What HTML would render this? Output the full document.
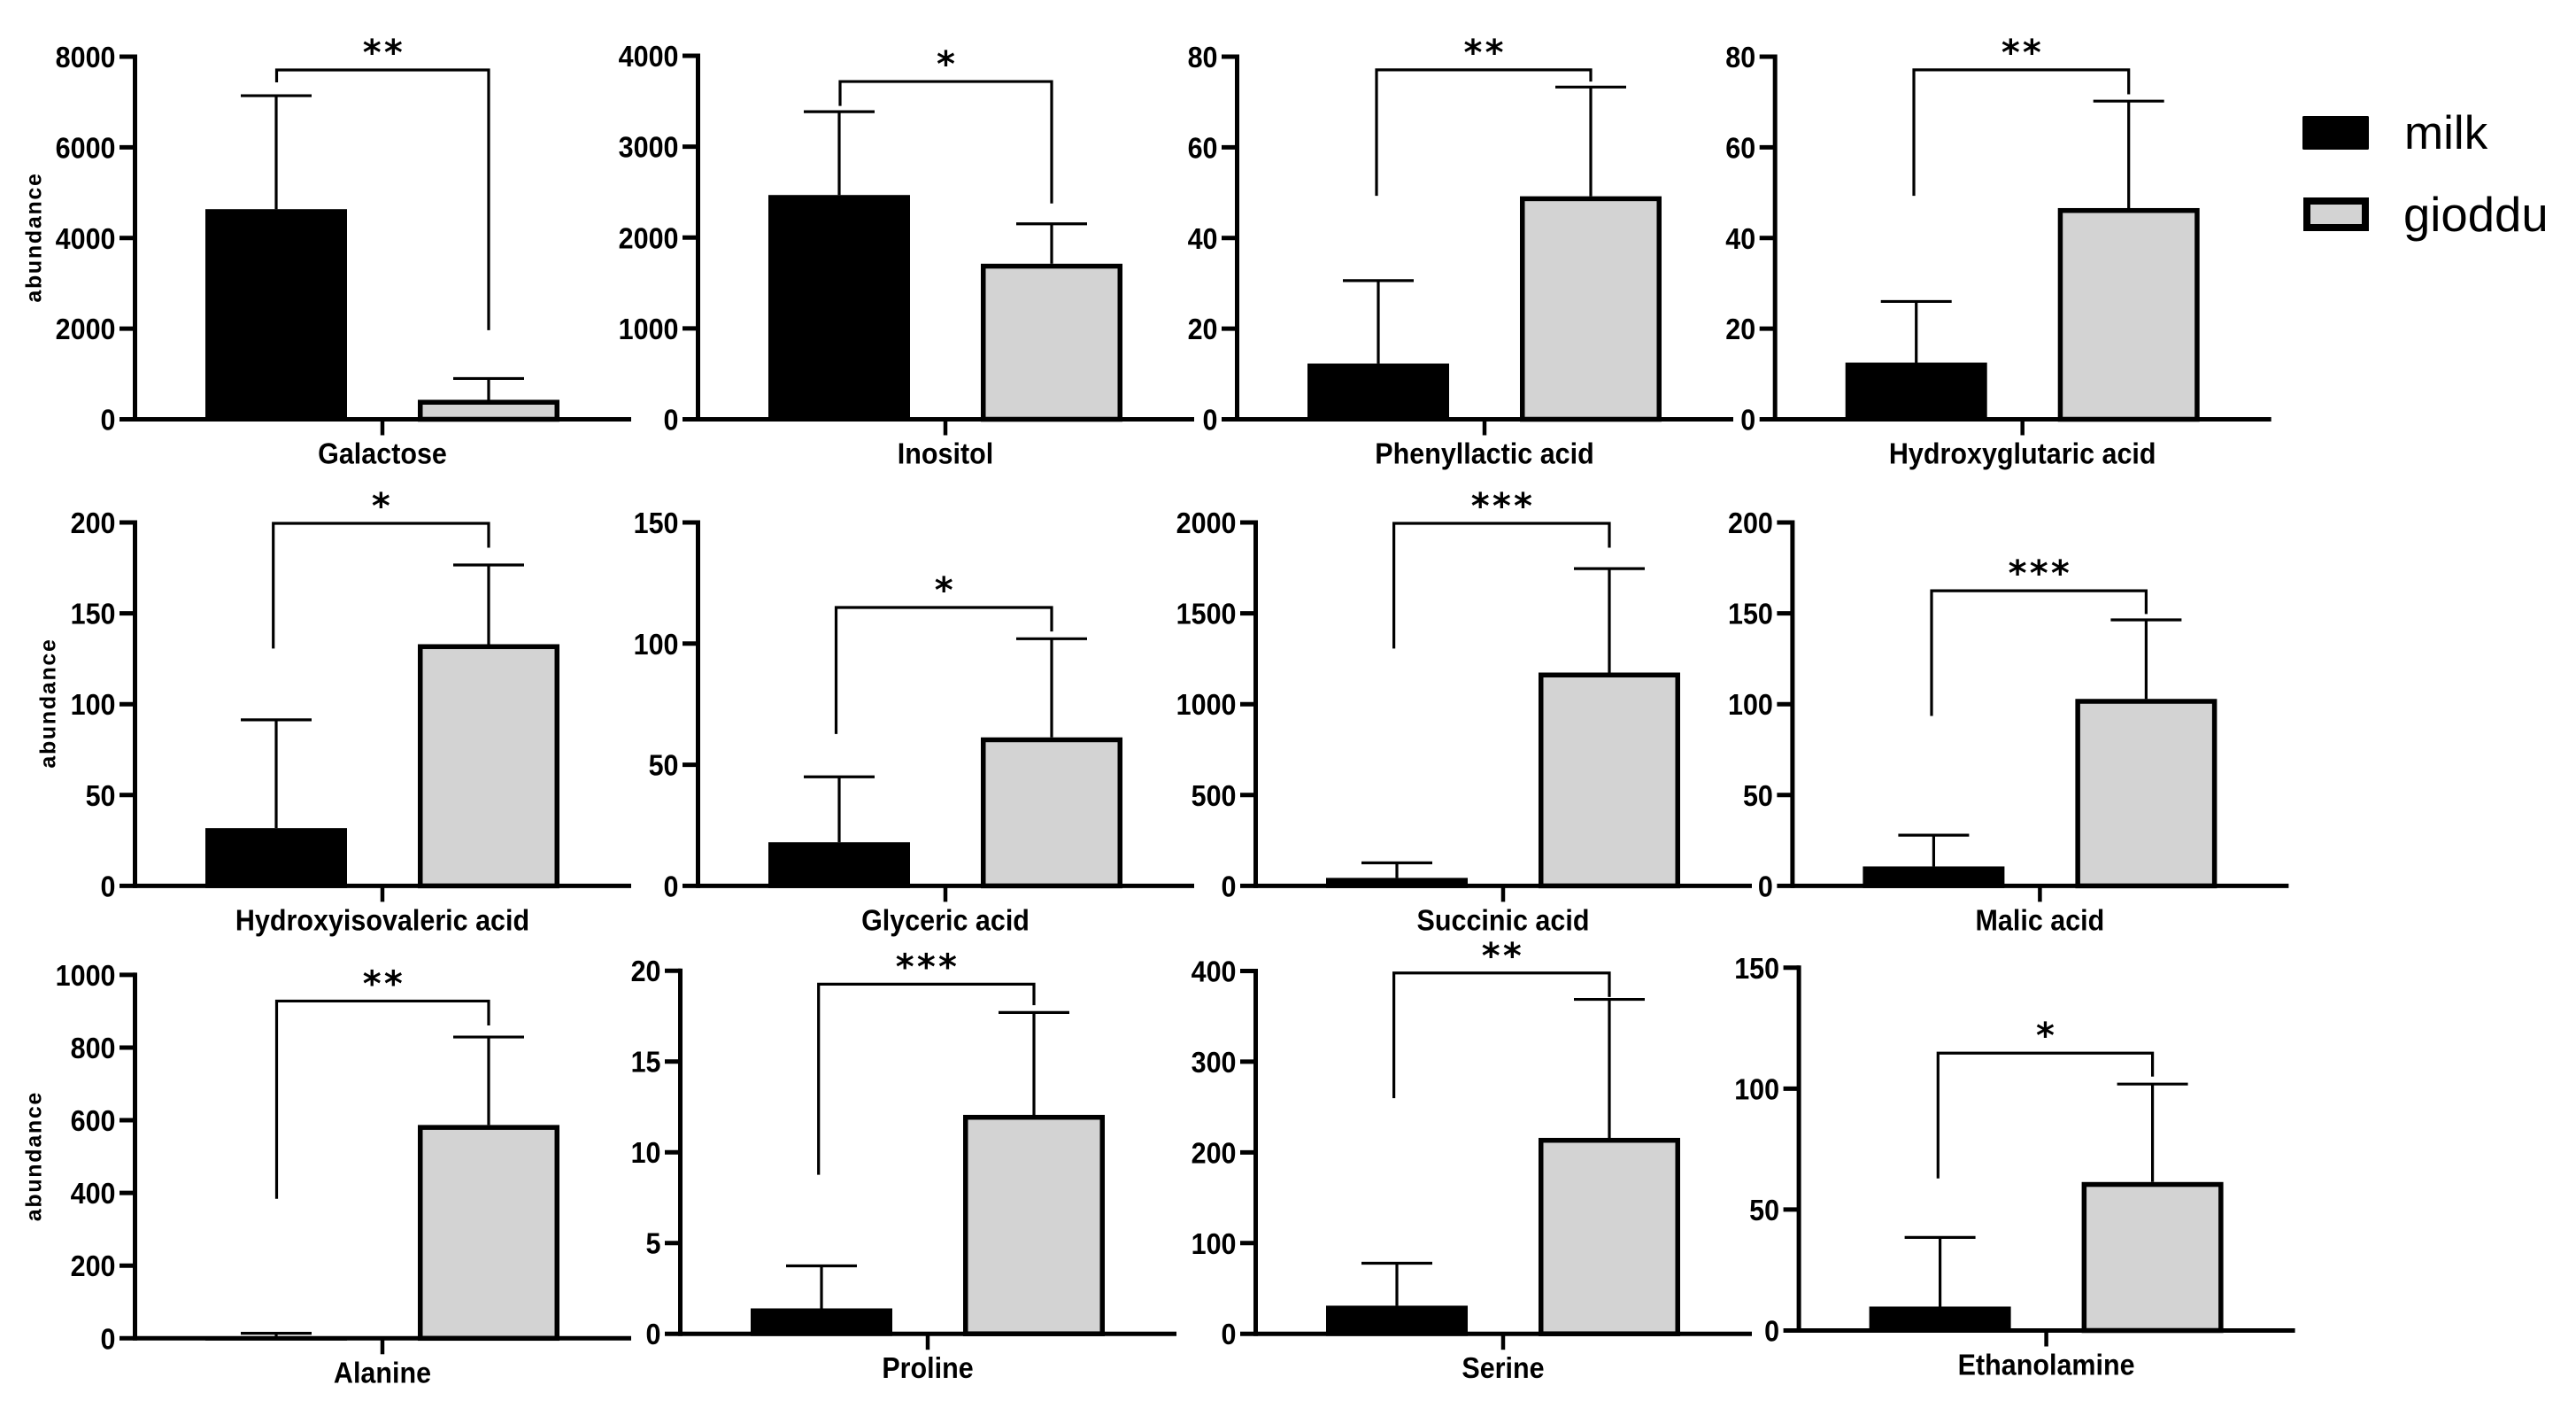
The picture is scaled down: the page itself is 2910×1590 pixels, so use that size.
<!DOCTYPE html>
<html lang="en">
<head>
<meta charset="utf-8">
<title>Metabolite abundance in milk and gioddu</title>
<style>
  html, body { margin: 0; padding: 0; background: #ffffff; }
  svg { display: block; }
  text { font-family: "Liberation Sans", Arial, sans-serif; fill: #000000; }
  .tick-text, .cat-text { font-size: 30.5px; font-weight: 700; }
  .y-title { font-size: 25px; font-weight: 700; letter-spacing: 1.7px; }
  .stars { font-family: "DejaVu Sans", "Liberation Sans", sans-serif; font-size: 40px; font-weight: 700; letter-spacing: 3.2px; }
  .legend-text { font-size: 53px; font-weight: 400; }
  .legend-text-wide { font-size: 54.5px; font-weight: 400; }
</style>
</head>
<body>
<svg id="figure" xmlns="http://www.w3.org/2000/svg" width="2910" height="1590" viewBox="0 0 2910 1590">
  <rect x="0" y="0" width="2910" height="1590" fill="#ffffff"/>
  <g id="panels"></g>
  <g>
    <g>
      <rect x="2601" y="131" width="75" height="38" rx="1.5" fill="#000000"/>
      <text class="legend-text" x="2716" y="168">milk</text>
    </g>
    <g>
      <rect x="2606" y="227" width="66" height="30" fill="#d3d3d3" stroke="#000000" stroke-width="8"/>
      <text class="legend-text-wide" x="2715" y="261">gioddu</text>
    </g>
  </g>
</svg>
<script>
// ---- chart data ----
const categories = ['Galactose', 'Inositol', 'Phenyllactic acid', 'Hydroxyglutaric acid',
  'Hydroxyisovaleric acid', 'Glyceric acid', 'Succinic acid', 'Malic acid',
  'Alanine', 'Proline', 'Serine', 'Ethanolamine'];
const milkMeans = [4636, 2468, 12.3, 12.5, 31.8, 18, 44, 10.7, 3, 1.4, 31, 9.9];
const milkErrors = [2503, 917, 18.3, 13.5, 59.6, 27, 83, 17.2, 10.9, 2.34, 46.8, 28.6];
const giodduMeans = [430, 1712, 49.2, 46.6, 133, 61.3, 1174, 102.9, 587, 12.06, 216, 61.4];
const giodduErrors = [470, 439, 24.1, 23.6, 43.6, 40.7, 572, 43.5, 242, 5.64, 152.7, 40.5];
const yTickLabels = [
  [0, 2000, 4000, 6000, 8000],
  [0, 1000, 2000, 3000, 4000],
  [0, 20, 40, 60, 80],
  [0, 20, 40, 60, 80],
  [0, 50, 100, 150, 200],
  [0, 50, 100, 150],
  [0, 500, 1000, 1500, 2000],
  [0, 50, 100, 150, 200],
  [0, 200, 400, 600, 800, 1000],
  [0, 5, 10, 15, 20],
  [0, 100, 200, 300, 400],
  [0, 50, 100, 150]
];
const significance = ['**', '*', '**', '**', '*', '*', '***', '***', '**', '***', '**', '*'];
// significance bracket levels, in each panel's y-axis units
const bracketTops = [7707, 3717, 77.1, 77.1, 199.5, 114.9, 1995, 162.4, 928, 19.26, 397.8, 114.7];
const bracketLeftEnds = [7433, 3448, 49.3, 49.3, 130.6, 62.7, 1306, 93.5, 383.8, 8.76, 259.8, 62.9];
const bracketRightEnds = [1966, 2375, 74.5, 71.7, 186.1, 105, 1861, 149.6, 861, 18.1, 371.3, 105];
const yAxisTitle = 'abundance';

// ---- layout (frame of each panel; not data) ----
const frameAxisX = [153, 789, 1398, 2005.7, 153, 789, 1419, 2025.4, 153, 769, 1419, 2032.6];
const frameTopY = [64, 63, 64, 64, 590, 590, 590, 590, 1100.9, 1096.2, 1096.5, 1092.8];
const frameZeroY = [473.5, 473.5, 473.5, 473.5, 1000.4, 1000.4, 1000.4, 1000.4, 1511.3, 1506.2, 1506.2, 1502.5];
const frameBracketInset = [159.5, 160, 157, 156.3, 155.7, 155.5, 155.6, 156.6, 159.5, 155.7, 155.6, 156.7];
const titleBaselineX = {0: 46.5, 4: 62.5, 8: 46.5};
const titleCenterY = {0: 268, 4: 794, 8: 1305.6};
const X_LENGTH = 560, BAND0 = 159, BAND_STEP = 240, BAR_W = 160, CAP_W = 80, CAT_X = 279;
const AXIS_W = 5, BORDER_W = 5.5, ERR_W = 3.2, TEXT_STRETCH = 1.08;

const SVG_NS = 'http://www.w3.org/2000/svg';
const root = document.getElementById('panels');

function make(tag, parent) {
  const el = document.createElementNS(SVG_NS, tag);
  parent.appendChild(el);
  return el;
}
function setLine(el, x1, y1, x2, y2, w) {
  el.setAttribute('x1', x1);
  el.setAttribute('y1', y1);
  el.setAttribute('x2', x2);
  el.setAttribute('y2', y2);
  el.setAttribute('stroke', '#000000');
  el.setAttribute('stroke-width', w);
}
function yScaleFor(i) {
  const ticks = yTickLabels[i];
  const max = ticks[ticks.length - 1];
  return function (v) { return frameZeroY[i] - (v / max) * (frameZeroY[i] - frameTopY[i]); };
}
function xScaleFor(i) {
  return function (seriesIndex) { return frameAxisX[i] + BAND0 + BAND_STEP * seriesIndex; };
}

categories.forEach(function (cat, i) {
  const slug = cat.toLowerCase().replace(/\s+/g, '-');
  const y = yScaleFor(i);
  const x = xScaleFor(i);
  const axisX = frameAxisX[i];
  const zeroY = frameZeroY[i];

  const panel = make('g', root);
  
  

  // y axis
  const yAxis = make('line', panel);
  
  
  setLine(yAxis, axisX - 0.5, frameTopY[i] - 2.5, axisX - 0.5, zeroY + 2.5, AXIS_W);

  // y ticks + labels
  yTickLabels[i].forEach(function (t) {
    const tick = make('line', panel);
    
    
    setLine(tick, axisX - 18, y(t), axisX, y(t), AXIS_W);

    const label = make('text', panel);
    
    
    label.setAttribute('class', 'tick-text');
    label.setAttribute('text-anchor', 'end');
    label.setAttribute('transform', 'translate(' + (axisX - 22.5) + ' ' + (y(t) + 12) + ') scale(1 ' + TEXT_STRETCH + ')');
    label.textContent = String(t);
  });

  // x axis, category tick and label
  const xAxis = make('line', panel);
  
  
  setLine(xAxis, axisX, zeroY, axisX + X_LENGTH, zeroY, AXIS_W);

  const catTick = make('line', panel);
  
  
  setLine(catTick, axisX + CAT_X, zeroY, axisX + CAT_X, zeroY + 18, 4.5);

  const catLabel = make('text', panel);
  
  
  catLabel.setAttribute('class', 'cat-text');
  catLabel.setAttribute('text-anchor', 'middle');
  catLabel.setAttribute('transform', 'translate(' + (axisX + CAT_X) + ' ' + (zeroY + 50) + ') scale(1 ' + TEXT_STRETCH + ')');
  catLabel.textContent = cat;

  // error bars (drawn under the bars)
  const errMilk = make('line', panel);
  
  
  setLine(errMilk, x(0), y(milkMeans[i]), x(0), y(milkMeans[i] + milkErrors[i]), ERR_W);

  const capMilk = make('line', panel);
  
  
  setLine(capMilk, x(0) - CAP_W / 2, y(milkMeans[i] + milkErrors[i]), x(0) + CAP_W / 2, y(milkMeans[i] + milkErrors[i]), ERR_W);

  const errGioddu = make('line', panel);
  
  
  setLine(errGioddu, x(1), y(giodduMeans[i]), x(1), y(giodduMeans[i] + giodduErrors[i]), ERR_W);

  const capGioddu = make('line', panel);
  
  
  setLine(capGioddu, x(1) - CAP_W / 2, y(giodduMeans[i] + giodduErrors[i]), x(1) + CAP_W / 2, y(giodduMeans[i] + giodduErrors[i]), ERR_W);

  // bars
  const barMilk = make('rect', panel);
  
  
  barMilk.setAttribute('x', x(0) - BAR_W / 2);
  barMilk.setAttribute('y', y(milkMeans[i]));
  barMilk.setAttribute('width', BAR_W);
  barMilk.setAttribute('height', zeroY - y(milkMeans[i]) + AXIS_W / 2);
  barMilk.setAttribute('fill', '#000000');

  const barGioddu = make('rect', panel);
  
  
  barGioddu.setAttribute('x', x(1) - BAR_W / 2 + BORDER_W / 2);
  barGioddu.setAttribute('y', y(giodduMeans[i]) + BORDER_W / 2);
  barGioddu.setAttribute('width', BAR_W - BORDER_W);
  barGioddu.setAttribute('height', zeroY - y(giodduMeans[i]) - BORDER_W / 2);
  barGioddu.setAttribute('fill', '#d3d3d3');
  barGioddu.setAttribute('stroke', '#000000');
  barGioddu.setAttribute('stroke-width', BORDER_W);

  // significance bracket
  const bx1 = axisX + frameBracketInset[i];
  const bx2 = x(1);
  const bracket = make('path', panel);
  
  
  bracket.setAttribute('d', 'M' + bx1 + ' ' + y(bracketLeftEnds[i]) + ' V' + y(bracketTops[i]) + ' H' + bx2 + ' V' + y(bracketRightEnds[i]));
  bracket.setAttribute('fill', 'none');
  bracket.setAttribute('stroke', '#000000');
  bracket.setAttribute('stroke-width', ERR_W);

  const stars = make('text', panel);
  
  
  stars.setAttribute('class', 'stars');
  stars.setAttribute('x', (bx1 + bx2) / 2 + 1.6);
  stars.setAttribute('y', y(bracketTops[i]) - 6);
  stars.setAttribute('text-anchor', 'middle');
  stars.textContent = significance[i];

  // y-axis title on the first panel of each row
  if (titleBaselineX[i] !== undefined) {
    const title = make('text', panel);
    
    
    title.setAttribute('class', 'y-title');
    title.setAttribute('text-anchor', 'middle');
    title.setAttribute('transform', 'translate(' + titleBaselineX[i] + ' ' + titleCenterY[i] + ') rotate(-90)');
    title.textContent = yAxisTitle;
  }
});
</script>
</body>
</html>
